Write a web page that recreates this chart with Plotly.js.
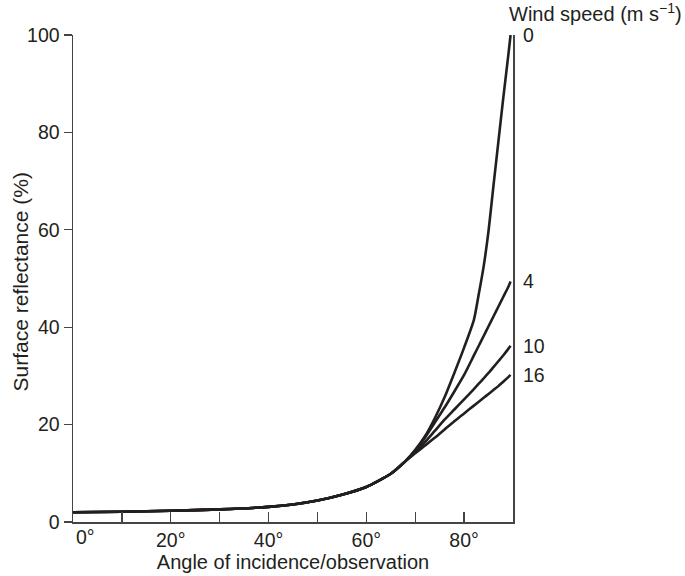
<!DOCTYPE html>
<html>
<head>
<meta charset="utf-8">
<script src="https://cdn.plot.ly/plotly-3.0.1.min.js"></script>
<style>html,body{margin:0;padding:0;background:#fff;}#chart{width:685px;height:576px;}</style>
</head>
<body>
<div id="chart"></div>
<script>
// Angle of incidence/observation (degrees)
const angles = [0, 10, 20, 30, 40, 45, 50, 55, 60, 65, 68, 70, 72, 74, 76, 78, 80, 82, 83, 84, 85, 86, 87, 88, 89, 89.5];
// Surface reflectance (%) for each wind speed
const refl0  = [2.0, 2.1, 2.3, 2.6, 3.1, 3.6, 4.4, 5.6, 7.2, 9.9, 12.5, 14.8, 17.6, 21.3, 25.6, 30.6, 35.8, 41.5, 46.8, 52.5, 59.8, 69.0, 78.0, 87.0, 95.5, 100.0];
const refl4  = [2.0, 2.1, 2.3, 2.6, 3.1, 3.6, 4.4, 5.6, 7.2, 9.9, 12.5, 14.6, 17.3, 20.4, 23.5, 26.8, 30.2, 34.2, 36.2, 38.2, 40.2, 42.2, 44.2, 46.2, 48.2, 49.4];
const refl10 = [2.0, 2.1, 2.3, 2.6, 3.1, 3.6, 4.4, 5.6, 7.2, 9.9, 12.5, 14.4, 16.4, 18.7, 21.0, 23.1, 25.2, 27.3, 28.4, 29.5, 30.6, 31.8, 33.0, 34.2, 35.5, 36.2];
const refl16 = [2.0, 2.1, 2.3, 2.6, 3.1, 3.6, 4.4, 5.6, 7.2, 9.9, 12.5, 14.1, 15.7, 17.3, 19.0, 20.7, 22.3, 23.9, 24.7, 25.5, 26.3, 27.1, 27.9, 28.8, 29.7, 30.2];
const windSpeeds = ["0", "4", "10", "16"];
const series = [refl0, refl4, refl10, refl16];

const xTickVals = [0, 10, 20, 30, 40, 50, 60, 70, 80, 90];
const xTickText = ["", "", "20°", "", "40°", "", "60°", "", "80°", ""];
const yTickVals = [0, 20, 40, 60, 80, 100];

const ink = "#231f20";
const fam = "Liberation Sans, Arial, sans-serif";
const tickFont = {family: fam, size: 19.5, color: ink};
const titleFont = {family: fam, size: 20, color: ink};
const yTitleFont = {family: fam, size: 21, color: ink};

const traces = series.map((ys, i) => ({
  x: angles, y: ys, type: "scatter", mode: "lines",
  line: {color: ink, width: 2.6, shape: "spline", smoothing: 0.6},
  name: windSpeeds[i], hoverinfo: "skip"
}));

const annotations = series.map((ys, i) => ({
  x: angles[angles.length - 1], y: ys[ys.length - 1], xref: "x", yref: "y",
  text: windSpeeds[i], showarrow: false, xanchor: "left", yanchor: "middle",
  xshift: 10, font: tickFont
}));
annotations.push({
  x: 0, y: 0, xref: "x", yref: "paper", text: "0°", showarrow: false,
  xanchor: "center", yanchor: "top", xshift: 12, yshift: -2, font: tickFont
});
annotations.push({
  x: 1, y: 1, xref: "paper", yref: "paper", text: "Wind speed (m s<sup>−1</sup>)",
  showarrow: false, xanchor: "left", yanchor: "bottom", xshift: -6, yshift: 8, font: titleFont
});
annotations.push({
  x: 0, y: 0.5, xref: "paper", yref: "paper", text: "Surface reflectance (%)",
  showarrow: false, textangle: -90, xanchor: "center", yanchor: "middle",
  xshift: -53, yshift: -4, font: yTitleFont
});

const layout = {
  width: 685, height: 576,
  margin: {l: 73, r: 172, t: 35, b: 54},
  paper_bgcolor: "#fff", plot_bgcolor: "#fff",
  showlegend: false,
  font: tickFont,
  xaxis: {
    range: [0, 90], tickvals: xTickVals, ticktext: xTickText,
    ticks: "inside", ticklen: 10, tickwidth: 1.3, tickcolor: "#444",
    showline: true, linecolor: "#444", linewidth: 1.5, mirror: false,
    showgrid: false, zeroline: false, tickfont: tickFont,
    title: {text: "Angle of incidence/observation", font: titleFont, standoff: 5}
  },
  yaxis: {
    range: [0, 100], tickvals: yTickVals,
    ticks: "outside", ticklen: 8, tickwidth: 1.3, tickcolor: "#444",
    showline: true, linecolor: "#444", linewidth: 1.5, mirror: true,
    showgrid: false, zeroline: false, tickfont: tickFont
  },
  annotations: annotations
};

Plotly.newPlot("chart", traces, layout, {displayModeBar: false, staticPlot: true});
</script>
</body>
</html>
